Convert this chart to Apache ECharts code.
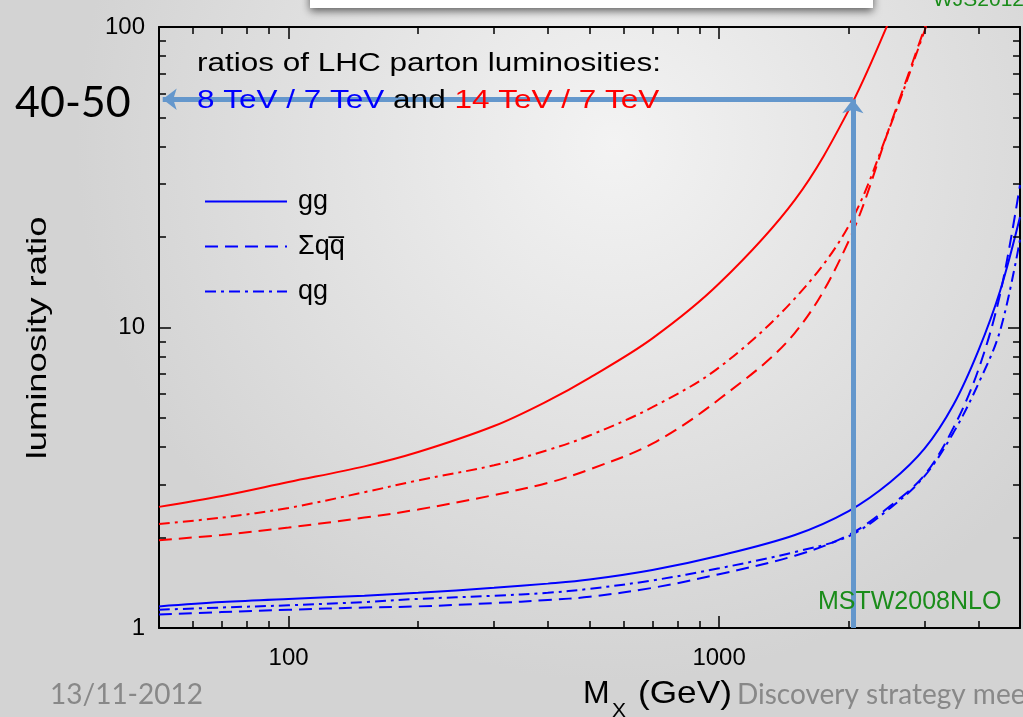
<!DOCTYPE html>
<html lang="en">
<head>
    <meta charset="utf-8">
    <title>LHC parton luminosity ratios</title>
    <script type="text/javascript" src="https://cdn.jsdelivr.net/npm/echarts@6/dist/echarts.min.js"></script>
    <style>
        html, body { margin: 0; padding: 0; }
    </style>
</head>
<body>
<div id="main" style="width: 1023px;height:717px;"></div>
<script>
    var massGeV = [50, 70, 100, 150, 200, 300, 400, 500, 700, 1000, 1500, 2000, 2500, 3000, 3500, 4000, 4500, 5000];

    // 14 TeV / 7 TeV
    var redGG = [2.53, 2.75, 3.06, 3.45, 3.85, 4.70, 5.70, 6.80, 9.20, 14.0, 26.6, 52.9, 107, 200];
    var redQQbar = [1.96, 2.04, 2.16, 2.33, 2.48, 2.77, 3.04, 3.37, 4.11, 5.77, 9.60, 19.4, 47.3, 99, 190];
    var redQG = [2.22, 2.33, 2.51, 2.83, 3.10, 3.48, 3.91, 4.37, 5.43, 7.36, 12.5, 21.8, 47.0, 97, 180];

    // 8 TeV / 7 TeV
    var blueGG = [1.18, 1.22, 1.25, 1.28, 1.31, 1.36, 1.405, 1.45, 1.56, 1.74, 2.04, 2.45, 3.06, 3.95, 5.52, 8.36, 13.3, 23.3];
    var blueQQbar = [1.11, 1.13, 1.15, 1.17, 1.18, 1.21, 1.24, 1.27, 1.36, 1.51, 1.74, 2.04, 2.55, 3.23, 4.63, 7.22, 13.0, 29.8];
    var blueQG = [1.15, 1.17, 1.19, 1.22, 1.25, 1.28, 1.31, 1.35, 1.44, 1.58, 1.79, 2.02, 2.51, 3.20, 4.46, 6.49, 9.81, 19.6];

    var xMajorTicks = [100, 1000];
    var yMajorTicks = [10];
    var xMinorTicks = [60, 70, 80, 90, 200, 300, 400, 500, 600, 700, 800, 900, 2000, 3000, 4000];
    var yMinorTicks = [2, 3, 4, 5, 6, 7, 8, 9, 20, 30, 40, 50, 60, 70, 80, 90];

    // the blue arrow drawn on the slide
    var arrowMass = 2045;
    var arrowRatio = 57.5;
    var arrowEndMass = 51;

    var chartFont = '"Liberation Sans", Arial, sans-serif';
    var slideFont = 'Lato, "Open Sans", sans-serif';

    // frame: x from 50 to 5000 over 864 px, y from 1 to 100 over 601 px
    var xMin = 50, xMax = 5000, yMin = 1, yMax = 100;
    var pxPerDecadeX = 432, pxPerDecadeY = 300.5;

    function pairs(vals) {
        return vals.map(function (v, i) { return [massGeV[i], v]; });
    }

    function decadeLabel(v) {
        var e = Math.log(v) / Math.LN10;
        if (Math.abs(e - Math.round(e)) < 1e-6) {
            return String(Math.round(Math.pow(10, Math.round(e))));
        }
        return '';
    }

    var dashed = [13, 7];
    var dashDot = [11, 5, 3, 5];

    function curve(name, vals, color, type) {
        return {
            name: name,
            type: 'line',
            data: pairs(vals),
            symbol: 'none',
            smooth: 0.35,
            lineStyle: {color: color, width: 2, type: type},
            itemStyle: {color: color},
            z: 3
        };
    }

    // tick segments on the four sides of the frame (length given in pixels)
    function tickSegments() {
        var segs = [];
        function fx(len) { return Math.pow(10, len / pxPerDecadeX); }
        function fy(len) { return Math.pow(10, len / pxPerDecadeY); }
        function xt(v, len) {
            segs.push([{coord: [v, yMin]}, {coord: [v, yMin * fy(len)]}]);
            segs.push([{coord: [v, yMax]}, {coord: [v, yMax / fy(len)]}]);
        }
        function yt(v, len) {
            segs.push([{coord: [xMin, v]}, {coord: [xMin * fx(len), v]}]);
            segs.push([{coord: [xMax, v]}, {coord: [xMax / fx(len), v]}]);
        }
        xMinorTicks.forEach(function (v) { xt(v, 7); });
        xMajorTicks.forEach(function (v) { xt(v, 12); });
        yMinorTicks.forEach(function (v) { yt(v, 7); });
        yMajorTicks.forEach(function (v) { yt(v, 12); });
        return segs;
    }

    function logAxis(pos, min, max, labels, margin) {
        return {
            type: 'log',
            logBase: 10,
            position: pos,
            min: min,
            max: max,
            axisLine: {show: true, lineStyle: {color: '#000', width: 2}},
            axisTick: {show: false},
            axisLabel: labels ? {formatter: decadeLabel, fontSize: 24, fontFamily: chartFont, color: '#000', margin: margin} : {show: false},
            splitLine: {show: false}
        };
    }

    var chartDom = document.getElementById('main');
    var myChart = echarts.init(chartDom);
    var option;

    option = {
        animation: false,
        backgroundColor: {
            type: 'radial', x: 0.6, y: 0.2, r: 0.75,
            colorStops: [
                {offset: 0, color: '#f3f3f3'},
                {offset: 0.5, color: '#e3e3e3'},
                {offset: 1, color: '#d3d3d3'}
            ]
        },
        grid: {left: 159, right: -1, top: 27, bottom: 89},
        legend: {
            data: ['gg', 'Σqq\u0305', 'qg'],
            orient: 'vertical',
            left: 199,
            top: 183,
            itemWidth: 82,
            itemHeight: 14,
            itemGap: 18,
            selectedMode: false,
            itemStyle: {opacity: 0},
            textStyle: {fontSize: 27, fontFamily: chartFont, color: '#000', padding: [0, 0, 0, 6]}
        },
        xAxis: [logAxis('bottom', xMin, xMax, true, 18), logAxis('top', xMin, xMax, false)],
        yAxis: [logAxis('left', yMin, yMax, true, 14), logAxis('right', yMin, yMax, false)],
        series: [
            curve('gg 14/7', redGG, '#ff0000', 'solid'),
            curve('qqbar 14/7', redQQbar, '#ff0000', dashed),
            curve('qg 14/7', redQG, '#ff0000', dashDot),
            curve('gg', blueGG, '#0000ff', 'solid'),
            curve('Σqq\u0305', blueQQbar, '#0000ff', dashed),
            curve('qg', blueQG, '#0000ff', dashDot),
            {
                type: 'line',
                data: [],
                silent: true,
                z: 5,
                markLine: {
                    silent: true,
                    symbol: ['none', 'none'],
                    label: {show: false},
                    lineStyle: {color: '#000', width: 1.5, type: 'solid'},
                    data: tickSegments()
                }
            },
            {
                type: 'line',
                data: [],
                silent: true,
                z: 6,
                markLine: {
                    silent: true,
                    symbolSize: [16, 14],
                    label: {show: false},
                    lineStyle: {color: '#6497cc', width: 5, type: 'solid'},
                    data: [
                        [{coord: [arrowMass, 1], symbol: 'none'}, {coord: [arrowMass, arrowRatio], symbol: 'arrow'}],
                        [{coord: [arrowMass, arrowRatio], symbol: 'none'}, {coord: [arrowEndMass, arrowRatio], symbol: 'arrow'}]
                    ]
                }
            }
        ],
        graphic: [
            {
                type: 'rect', z: 10,
                shape: {x: 310, y: -14, width: 563, height: 22},
                style: {fill: '#fff', shadowBlur: 8, shadowColor: 'rgba(0,0,0,0.6)', shadowOffsetY: 3}
            },
            {
                type: 'text', x: 933, y: 0, z: 10,
                style: {text: 'WJS2012', fill: '#1a8c1a', font: '21px ' + chartFont, verticalAlign: 'middle'}
            },
            {
                type: 'text', x: 197, y: 64, scaleX: 1.26, z: 10,
                style: {text: 'ratios of LHC parton luminosities:', fill: '#000',
                    font: '25px ' + chartFont, verticalAlign: 'middle'}
            },
            {
                type: 'text', x: 197, y: 101, scaleX: 1.26, z: 10,
                style: {
                    text: '{b|8 TeV / 7 TeV} and {r|14 TeV / 7 TeV}',
                    fill: '#000', font: '25px ' + chartFont, verticalAlign: 'middle',
                    rich: {
                        b: {fill: '#0000ff', fontSize: 25, fontFamily: chartFont},
                        r: {fill: '#ff0000', fontSize: 25, fontFamily: chartFont}
                    }
                }
            },
            {
                type: 'text', x: 15, y: 103, z: 10,
                style: {text: '40-50', fill: '#000', font: '43px ' + slideFont, verticalAlign: 'middle'}
            },
            {
                type: 'text', x: 38, y: 338, rotation: Math.PI / 2, scaleX: 1.3, z: 10,
                style: {text: 'luminosity ratio', fill: '#000', font: '28px ' + chartFont,
                    align: 'center', verticalAlign: 'middle'}
            },
            {
                type: 'text', x: 583, y: 694, z: 10,
                style: {text: 'M', fill: '#000', font: '32px ' + chartFont, verticalAlign: 'middle'}
            },
            {
                type: 'text', x: 612, y: 711, z: 10,
                style: {text: 'X', fill: '#000', font: '21px ' + chartFont, verticalAlign: 'middle'}
            },
            {
                type: 'text', x: 638, y: 694, scaleX: 1.1, z: 10,
                style: {text: '(GeV)', fill: '#000', font: '32px ' + chartFont, verticalAlign: 'middle'}
            },
            {
                type: 'text', x: 818, y: 602, z: 10,
                style: {text: 'MSTW2008NLO', fill: '#1a8c1a', font: '25px ' + chartFont, verticalAlign: 'middle'}
            },
            {
                type: 'text', x: 50, y: 695, z: 10,
                style: {text: '13/11-2012', fill: '#888', font: '28px ' + slideFont, verticalAlign: 'middle'}
            },
            {
                type: 'text', x: 737, y: 695, z: 10,
                style: {text: 'Discovery strategy meeting', fill: '#888', font: '28px ' + slideFont, verticalAlign: 'middle'}
            }
        ]
    };

    myChart.setOption(option);
</script>
</body>
</html>
